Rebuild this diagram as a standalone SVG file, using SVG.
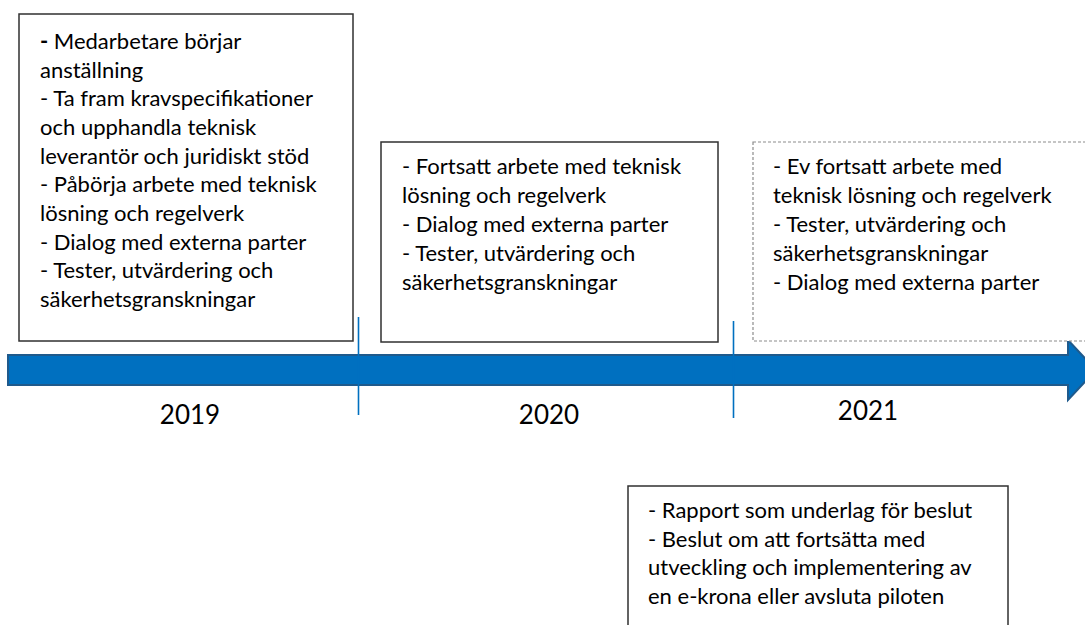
<svg xmlns="http://www.w3.org/2000/svg" width="1085" height="625" viewBox="0 0 1085 625">
  <style>
    .box { fill: #ffffff; stroke: #303030; stroke-width: 1.5; }
    .box-dashed { fill: #ffffff; stroke: #8c8c8c; stroke-width: 1.2; stroke-dasharray: 3 2; }
    .txt { font-family: "Lato", "Liberation Sans", sans-serif; font-size: 22px; fill: #000000; }
    .year { font-family: "Lato", "Liberation Sans", sans-serif; font-size: 26px; fill: #000000; text-anchor: middle; }
    .tick { stroke: #0070C0; stroke-width: 1.6; }
  </style>

  <rect width="1085" height="625" fill="#ffffff"/>

  <!-- timeline arrow and year dividers -->
  <g id="connectors">
    <path d="M8,355 L1068,355 L1068,340 L1096,370 L1068,400 L1068,385 L8,385 Z" fill="#0070C0" stroke="#1F5A8C" stroke-width="2" stroke-linejoin="miter"/>
    <line class="tick" x1="358.5" y1="317" x2="358.5" y2="415"/>
    <line class="tick" x1="733.5" y1="321" x2="733.5" y2="418"/>
  </g>

  <!-- year labels -->
  <g id="years">
    <text class="year" x="190" y="424">2019</text>
    <text class="year" x="549" y="424">2020</text>
    <text class="year" x="868" y="420">2021</text>
  </g>

  <!-- 2019 activities -->
  <g id="box-2019">
    <rect class="box" x="19" y="14" width="334" height="327"/>
    <text class="txt" x="40" y="49"><tspan font-weight="bold">-</tspan> Medarbetare börjar</text>
    <text class="txt" x="40" y="77.7">anställning</text>
    <text class="txt" x="40" y="106.3">- Ta fram kravspecifikationer</text>
    <text class="txt" x="40" y="135">och upphandla teknisk</text>
    <text class="txt" x="40" y="163.7">leverantör och juridiskt stöd</text>
    <text class="txt" x="40" y="192.3">- Påbörja arbete med teknisk</text>
    <text class="txt" x="40" y="221">lösning och regelverk</text>
    <text class="txt" x="40" y="249.7">- Dialog med externa parter</text>
    <text class="txt" x="40" y="278.3">- Tester, utvärdering och</text>
    <text class="txt" x="40" y="307">säkerhetsgranskningar</text>
  </g>

  <!-- 2020 activities -->
  <g id="box-2020">
    <rect class="box" x="381" y="142" width="337" height="200"/>
    <text class="txt" x="402" y="174">- Fortsatt arbete med teknisk</text>
    <text class="txt" x="402" y="203">lösning och regelverk</text>
    <text class="txt" x="402" y="232">- Dialog med externa parter</text>
    <text class="txt" x="402" y="261">- Tester, utvärdering och</text>
    <text class="txt" x="402" y="290">säkerhetsgranskningar</text>
  </g>

  <!-- 2021 activities (tentative) -->
  <g id="box-2021">
    <rect class="box-dashed" x="753" y="142" width="345" height="199"/>
    <text class="txt" x="773" y="174">- Ev fortsatt arbete med</text>
    <text class="txt" x="773" y="203">teknisk lösning och regelverk</text>
    <text class="txt" x="773" y="232">- Tester, utvärdering och</text>
    <text class="txt" x="773" y="261">säkerhetsgranskningar</text>
    <text class="txt" x="773" y="290">- Dialog med externa parter</text>
  </g>

  <!-- decision point -->
  <g id="box-decision">
    <rect class="box" x="628" y="486" width="380" height="160"/>
    <text class="txt" x="648" y="518">- Rapport som underlag för beslut</text>
    <text class="txt" x="648" y="546.5">- Beslut om att fortsätta med</text>
    <text class="txt" x="648" y="575">utveckling och implementering av</text>
    <text class="txt" x="648" y="603.5">en e-krona eller avsluta piloten</text>
  </g>
</svg>
